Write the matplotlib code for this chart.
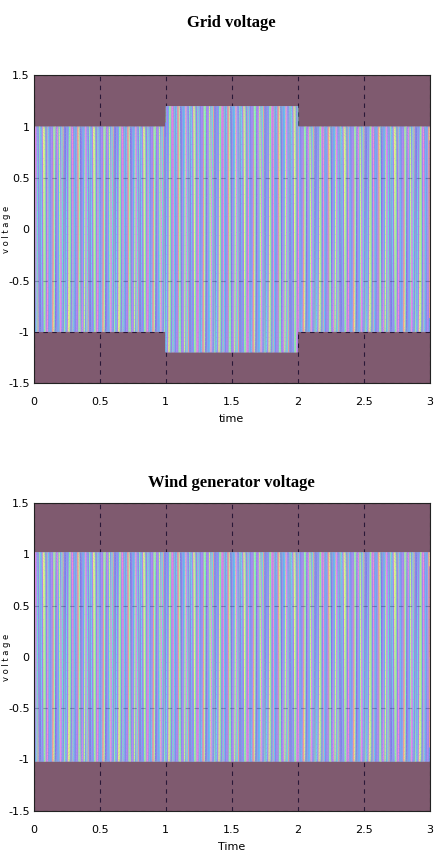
import numpy as np
import matplotlib.pyplot as plt
from matplotlib.collections import LineCollection

# segment boundaries (s) and peak amplitude (pu) of each segment
grid_edges = [0.0, 1.0, 2.0, 3.0]
grid_amp = [1.0, 1.2, 1.0]
wind_edges = [0.0, 3.0]
wind_amp = [1.02]

freq = 50.0
phase_deg = [0, 120, 240]

xticks = [0, 0.5, 1, 1.5, 2, 2.5, 3]
yticks = [-1.5, -1, -0.5, 0, 0.5, 1, 1.5]
xtick_labels = ["0", "0.5", "1", "1.5", "2", "2.5", "3"]
ytick_labels = ["-1.5", "-1", "-0.5", "0", "0.5", "1", "1.5"]

bg = "#7f5a6f"
# pastel stripe colours seen in the trace
stripe = ["#8a84ec", "#6fd3e8", "#a57ef0", "#e6ea8c", "#7fe8a8", "#9a7ef0",
          "#f08ad8", "#66c8f0", "#8696ee", "#b08af0", "#f0a090", "#8ef0c0",
          "#7c7ce8", "#a890f2", "#6ab0f0", "#c8f08a", "#e08af0", "#70e0d0",
          "#9088f0"]


def envelope(t, edges, amps):
    idx = np.clip(np.searchsorted(edges, t, side="right") - 1, 0, len(amps) - 1)
    return np.asarray(amps)[idx]


def draw(ax, edges, amps, title, xlabel, ty):
    t = np.linspace(0, 3, 12001)
    a = envelope(t, edges, amps)
    for k, ph in enumerate(phase_deg):
        y = a * np.sin(2 * np.pi * freq * t + np.deg2rad(ph))
        pts = np.column_stack([t, y]).reshape(-1, 1, 2)
        segs = np.concatenate([pts[:-1], pts[1:]], axis=1)
        tm = 0.5 * (t[:-1] + t[1:])
        ci = (np.floor(tm * freq * 2 + ph / 180.0 - 0.5).astype(int) + 7 * k) % len(stripe)
        lc = LineCollection(segs, colors=[stripe[i] for i in ci], linewidths=0.9)
        ax.add_collection(lc)
    ax.set_facecolor(bg)
    ax.set_xlim(0, 3)
    ax.set_ylim(-1.5, 1.5)
    ax.set_xticks(xticks)
    ax.set_xticklabels(xtick_labels)
    ax.set_yticks(yticks)
    ax.set_yticklabels(ytick_labels)
    ax.set_axisbelow(True)
    ax.grid(True, color="#2a1838", linestyle=(0, (4, 4)), linewidth=0.8)
    for yv in [-0.5, 0.5]:
        ax.axhline(yv, color="#1e2a60", lw=0.8, ls=(0, (4, 4)), alpha=0.35, zorder=3)
    for s in ax.spines.values():
        s.set_color("#222222")
    ax.tick_params(length=0, labelsize=8, pad=10)
    ax.tick_params(axis="y", pad=3)
    ax.set_title(title, fontfamily="Liberation Serif", fontweight="bold",
                 fontsize=12, y=ty)
    ax.set_xlabel(xlabel, fontsize=8, labelpad=5)
    ax.set_ylabel("v o l t a g e", fontsize=6)
    ax.yaxis.set_label_coords(-0.058, 0.5)


fig = plt.figure(figsize=(4.34, 8.57), dpi=100)
ax1 = fig.add_axes([0.078, 0.553, 0.912, 0.359])
ax2 = fig.add_axes([0.078, 0.054, 0.912, 0.359])
draw(ax1, grid_edges, grid_amp, "Grid voltage", "time", 1.13)
draw(ax2, wind_edges, wind_amp, "Wind generator voltage", "Time", 1.025)

fig.savefig("out.png", dpi=100)
